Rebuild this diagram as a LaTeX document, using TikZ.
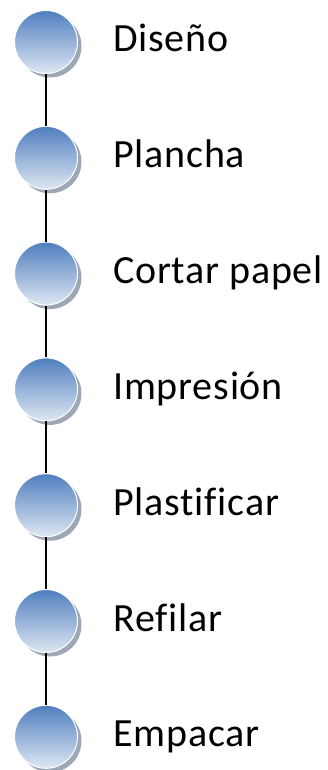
\documentclass[tikz,border=0pt]{standalone}
\usepackage{fontspec}
\setmainfont[Ligatures=NoCommon,LetterSpace=2]{Carlito}
\usetikzlibrary{positioning}
\usetikzlibrary{shadows}
\definecolor{balltop}{RGB}{79,127,190}
\definecolor{ballbottom}{RGB}{222,231,243}
\definecolor{ballshade}{RGB}{158,167,181}

\begin{document}
\begin{tikzpicture}[>=latex,ball/.style={circle,
				minimum size=63pt,
				inner sep=0pt,
				top color=balltop,
				bottom color=ballbottom,
				draw=white,
				line width=1pt,
				drop shadow={shadow xshift=4pt,shadow yshift=-4pt,fill=ballshade,opacity=1}},
			lbl/.style={anchor=base west,inner sep=0pt,yshift=-10pt,font=\fontsize{40}{46}\selectfont},
			stem/.style={draw=black,line width=2.4pt}]
			\useasboundingbox (0pt,0pt) rectangle (328pt,-770pt);
			\node[ball] (c1) at (46pt,-42pt) {};
			\node[ball,below=51.8pt of c1] (c2) {};
			\node[ball,below=51.8pt of c2] (c3) {};
			\node[ball,below=51.8pt of c3] (c4) {};
			\node[ball,below=51.8pt of c4] (c5) {};
			\node[ball,below=51.8pt of c5] (c6) {};
			\node[ball,below=51.8pt of c6] (c7) {};
			\node[right=35pt of c1,lbl] (t1) {Diseño};
			\node[right=35pt of c2,lbl] (t2) {Plancha};
			\node[right=35pt of c3,lbl] (t3) {Cortar papel};
			\node[right=35pt of c4,lbl] (t4) {Impresión};
			\node[right=35pt of c5,lbl] (t5) {Plastificar};
			\node[right=35pt of c6,lbl] (t6) {Refilar};
			\node[right=35pt of c7,lbl] (t7) {Empacar};
			\draw[stem] (c1)--(c2);
			\draw[stem] (c2)--(c3);
			\draw[stem] (c3)--(c4);
			\draw[stem] (c4)--(c5);
			\draw[stem] (c5)--(c6);
			\draw[stem] (c6)--(c7);
		\end{tikzpicture}
\end{document}
